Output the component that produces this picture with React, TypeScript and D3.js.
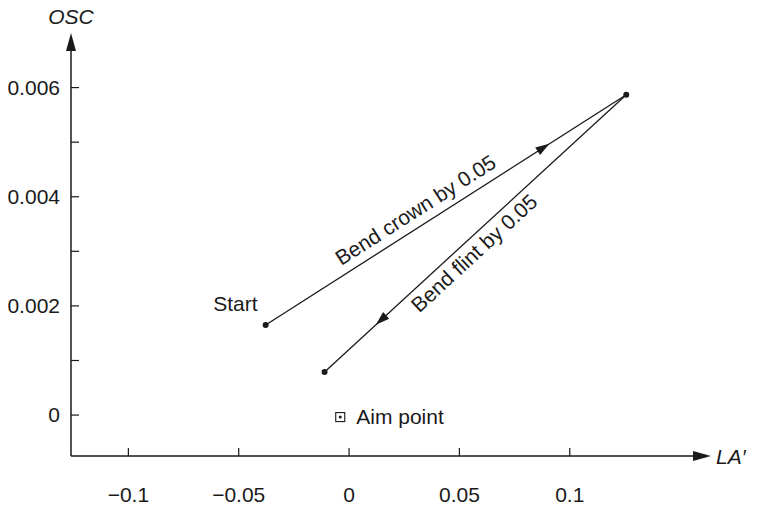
import React from "react";
import * as d3 from "d3";

const xTicks = [-0.1, -0.05, 0, 0.05, 0.1];
const xTickLabels = ["\u22120.1", "\u22120.05", "0", "0.05", "0.1"];
const yTicks = [0, 0.001, 0.002, 0.003, 0.004, 0.005, 0.006];
const yTickLabels = ["0", "", "0.002", "", "0.004", "", "0.006"];

const pointNames = ["Start", "Peak", "End"];
const pointLA = [-0.0378, 0.1256, -0.0111];
const pointOSC = [0.00165, 0.00587, 0.00079];

const segmentLabels = ["Bend crown by 0.05", "Bend flint by 0.05"];
const aimLA = [-0.004];
const aimOSC = [0];
const aimLabel = ["Aim point"];

const W = 759;
const H = 516;

export default function App() {
  const x = d3.scaleLinear().domain([-0.126, 0.164]).range([71, 711]);
  const y = d3.scaleLinear().domain([-0.00075, 0.007]).range([456, 33]);
  const font = "Liberation Sans, Arial, Helvetica, sans-serif";
  const fs = 21;
  const ink = "#1a1a1a";

  const pts = pointNames.map((n, i) => ({ name: n, px: x(pointLA[i]), py: y(pointOSC[i]) }));

  const arrowHead = (ax: number, ay: number, bx: number, by: number, t: number) => {
    const tx = ax + (bx - ax) * t;
    const ty = ay + (by - ay) * t;
    const ang = Math.atan2(by - ay, bx - ax);
    const L = 14, Wd = 4.5;
    const ux = Math.cos(ang), uy = Math.sin(ang);
    const bxp = tx - ux * L, byp = ty - uy * L;
    return `M${tx},${ty} L${bxp - uy * Wd},${byp + ux * Wd} L${bxp + uy * Wd},${byp - ux * Wd} Z`;
  };

  const segs = [
    { a: pts[0], b: pts[1], arrowT: 0.787, labelT: 0.44, off: -9, label: segmentLabels[0] },
    { a: pts[1], b: pts[2], arrowT: 0.83, labelT: 0.535, off: 21, label: segmentLabels[1] },
  ];

  return (
    <svg width={W} height={H} style={{ position: "absolute", left: 0, top: 0, background: "#fff" }}>
      {/* axes */}
      <line x1={x.range()[0]} y1={y.range()[0]} x2={x.range()[1] - 12} y2={y.range()[0]} stroke={ink} strokeWidth={1.5} />
      <path d={`M${x.range()[1]},${y.range()[0]} l-18,-5 l0,10 Z`} fill={ink} />
      <line x1={x.range()[0]} y1={y.range()[0]} x2={x.range()[0]} y2={y.range()[1] + 12} stroke={ink} strokeWidth={1.5} />
      <path d={`M${x.range()[0]},${y.range()[1]} l-5,18 l10,0 Z`} fill={ink} />

      {xTicks.map((t, i) => (
        <g key={"xt" + i}>
          <line x1={x(t)} x2={x(t)} y1={y.range()[0]} y2={y.range()[0] - 8} stroke={ink} strokeWidth={1.2} />
          <text x={x(t)} y={y.range()[0] + 46} textAnchor="middle" fontFamily={font} fontSize={fs} fill={ink}>
            {xTickLabels[i]}
          </text>
        </g>
      ))}
      {yTicks.map((t, i) => (
        <g key={"yt" + i}>
          <line x1={x.range()[0]} x2={x.range()[0] + 8} y1={y(t)} y2={y(t)} stroke={ink} strokeWidth={1.2} />
          {yTickLabels[i] && (
            <text x={x.range()[0] - 11} y={y(t) + 7} textAnchor="end" fontFamily={font} fontSize={fs} fill={ink}>
              {yTickLabels[i]}
            </text>
          )}
        </g>
      ))}

      <text x={x.range()[0]} y={24} textAnchor="middle" fontFamily={font} fontSize={fs} fontStyle="italic" fill={ink}>
        OSC
      </text>
      <text x={x.range()[1] + 5} y={y.range()[0] + 8} fontFamily={font} fontSize={fs} fontStyle="italic" fill={ink}>
        LA′
      </text>

      {/* segments */}
      {segs.map((s, i) => {
        const ang = (Math.atan2(s.b.py - s.a.py, s.b.px - s.a.px) * 180) / Math.PI;
        const rot = i === 0 ? ang : ang + 180;
        const lx = s.a.px + (s.b.px - s.a.px) * s.labelT;
        const ly = s.a.py + (s.b.py - s.a.py) * s.labelT;
        return (
          <g key={"s" + i}>
            <line x1={s.a.px} y1={s.a.py} x2={s.b.px} y2={s.b.py} stroke={ink} strokeWidth={1.3} />
            <path d={arrowHead(s.a.px, s.a.py, s.b.px, s.b.py, s.arrowT)} fill={ink} />
            <g transform={`translate(${lx},${ly}) rotate(${rot})`}>
              <text x={0} y={s.off} textAnchor="middle" fontFamily={font} fontSize={fs} fill={ink}>
                {s.label}
              </text>
            </g>
          </g>
        );
      })}

      {pts.map((p, i) => (
        <circle key={"p" + i} cx={p.px} cy={p.py} r={3} fill={ink} />
      ))}
      <text x={pts[0].px - 8} y={pts[0].py - 14} textAnchor="end" fontFamily={font} fontSize={fs} fill={ink}>
        {pointNames[0]}
      </text>

      {aimLA.map((a, i) => (
        <g key={"aim" + i}>
          <rect x={x(a) - 4.5} y={y(aimOSC[i]) - 2.5} width={9} height={9} fill="none" stroke={ink} strokeWidth={1.1} />
          <circle cx={x(a)} cy={y(aimOSC[i]) + 2} r={1.5} fill={ink} />
          <text x={x(a) + 16} y={y(aimOSC[i]) + 9} fontFamily={font} fontSize={fs} fill={ink}>
            {aimLabel[i]}
          </text>
        </g>
      ))}
    </svg>
  );
}
